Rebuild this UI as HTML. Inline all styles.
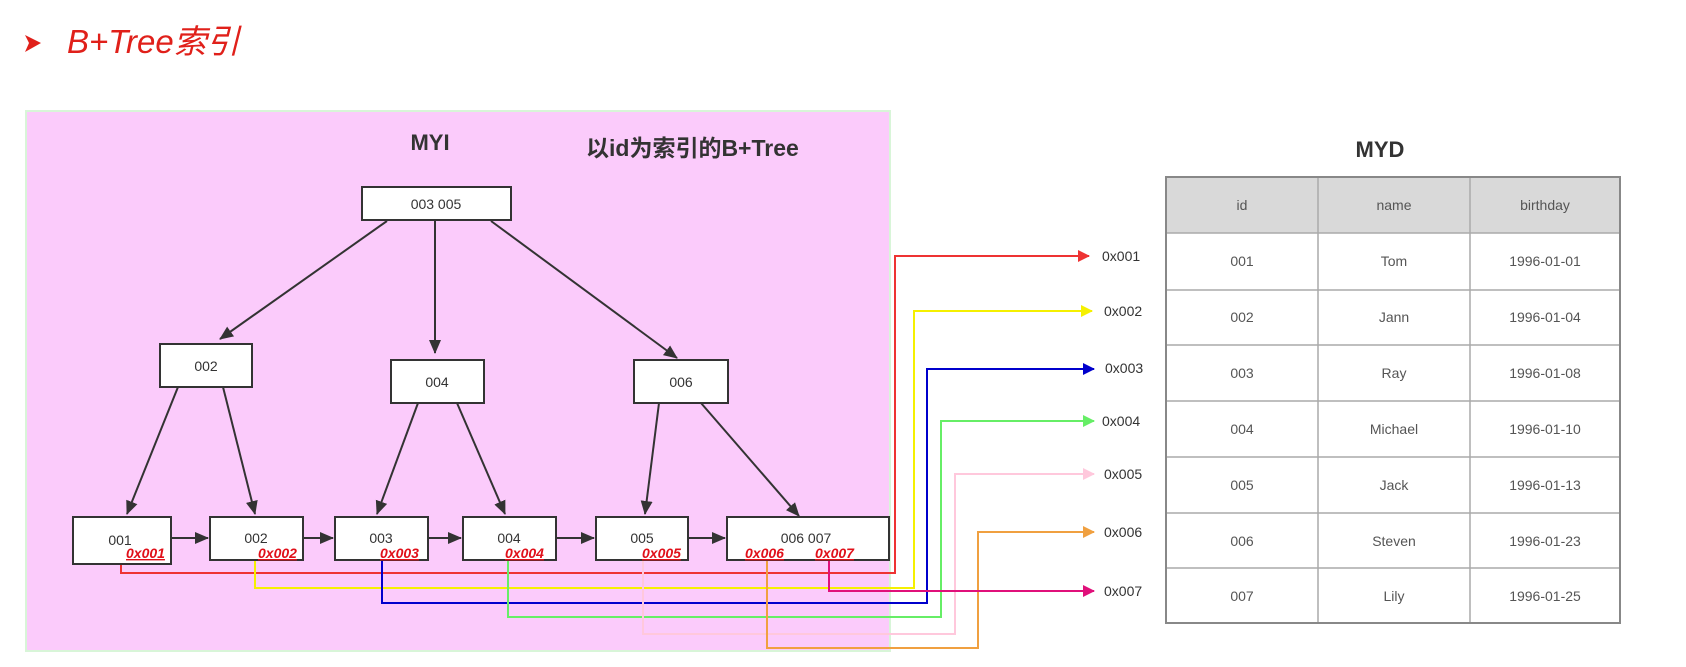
<!DOCTYPE html>
<html><head><meta charset="utf-8"><style>
html,body{margin:0;padding:0;background:#fff;width:1686px;height:667px;overflow:hidden}
svg text{font-family:"Liberation Sans","Noto Sans CJK SC",sans-serif}
</style></head><body>
<svg width="1686" height="667" viewBox="0 0 1686 667" xmlns="http://www.w3.org/2000/svg">
<defs>
<marker id="ak" markerWidth="14" markerHeight="14" refX="13" refY="7" orient="auto" markerUnits="userSpaceOnUse"><path d="M0,1 L14,7 L0,13 z" fill="#333"/></marker>
<marker id="ar" markerWidth="12" markerHeight="12" refX="11" refY="6" orient="auto" markerUnits="userSpaceOnUse"><path d="M0,0 L12,6 L0,12 z" fill="#ee3333"/></marker>
<marker id="ay" markerWidth="12" markerHeight="12" refX="11" refY="6" orient="auto" markerUnits="userSpaceOnUse"><path d="M0,0 L12,6 L0,12 z" fill="#f5f000"/></marker>
<marker id="ab" markerWidth="12" markerHeight="12" refX="11" refY="6" orient="auto" markerUnits="userSpaceOnUse"><path d="M0,0 L12,6 L0,12 z" fill="#0000cc"/></marker>
<marker id="ag" markerWidth="12" markerHeight="12" refX="11" refY="6" orient="auto" markerUnits="userSpaceOnUse"><path d="M0,0 L12,6 L0,12 z" fill="#66ee66"/></marker>
<marker id="ap" markerWidth="12" markerHeight="12" refX="11" refY="6" orient="auto" markerUnits="userSpaceOnUse"><path d="M0,0 L12,6 L0,12 z" fill="#ffc8dc"/></marker>
<marker id="ao" markerWidth="12" markerHeight="12" refX="11" refY="6" orient="auto" markerUnits="userSpaceOnUse"><path d="M0,0 L12,6 L0,12 z" fill="#f0a040"/></marker>
<marker id="am" markerWidth="12" markerHeight="12" refX="11" refY="6" orient="auto" markerUnits="userSpaceOnUse"><path d="M0,0 L12,6 L0,12 z" fill="#e0107a"/></marker>
</defs>
<path d="M25,35 L41,43 L25,52 L29,43 z" fill="#e0201a"/>
<text x="67" y="53" font-size="33" font-style="italic" fill="#e0201a">B+Tree索引</text>
<rect x="26" y="111" width="864" height="540" fill="#fbcbfb" stroke="#d8f5d8" stroke-width="2"/>
<text x="430" y="150" font-size="22" font-weight="bold" fill="#333" text-anchor="middle">MYI</text>
<text x="586" y="156" font-size="23" font-weight="bold" fill="#333">以id为索引的B+Tree</text>
<g fill="none" stroke-width="2">
<polyline points="121,563 121,573 895,573 895,256 1089,256" stroke="#ee3333" marker-end="url(#ar)"/>
<polyline points="255,560 255,588 914,588 914,311 1092,311" stroke="#f5f000" marker-end="url(#ay)"/>
<polyline points="382,560 382,603 927,603 927,369 1094,369" stroke="#0000cc" marker-end="url(#ab)"/>
<polyline points="508,560 508,617 941,617 941,421 1094,421" stroke="#66ee66" marker-end="url(#ag)"/>
<polyline points="643,560 643,634 955,634 955,474 1094,474" stroke="#ffc8dc" marker-end="url(#ap)"/>
<polyline points="767,560 767,648 978,648 978,532 1094,532" stroke="#f0a040" marker-end="url(#ao)"/>
<polyline points="829,560 829,591 1094,591" stroke="#e0107a" marker-end="url(#am)"/>
</g>
<g font-size="14" fill="#333">
<text x="1102" y="261">0x001</text><text x="1104" y="316">0x002</text><text x="1105" y="373">0x003</text>
<text x="1102" y="426">0x004</text><text x="1104" y="479">0x005</text><text x="1104" y="537">0x006</text><text x="1104" y="596">0x007</text>
</g>
<g stroke="#333" stroke-width="2" marker-end="url(#ak)">
<line x1="387" y1="221" x2="220" y2="339"/><line x1="435" y1="221" x2="435" y2="353"/><line x1="491" y1="221" x2="677" y2="358"/>
<line x1="178" y1="387" x2="127" y2="514"/><line x1="223" y1="387" x2="255" y2="514"/>
<line x1="418" y1="403" x2="377" y2="514"/><line x1="457" y1="403" x2="505" y2="514"/>
<line x1="659" y1="403" x2="645" y2="514"/><line x1="701" y1="403" x2="799" y2="516"/>
<line x1="172" y1="538" x2="208" y2="538"/><line x1="303" y1="538" x2="333" y2="538"/>
<line x1="428" y1="538" x2="461" y2="538"/><line x1="556" y1="538" x2="594" y2="538"/>
<line x1="688" y1="538" x2="725" y2="538"/>
</g>
<g fill="#fff" stroke="#333" stroke-width="2">
<rect x="362" y="187" width="149" height="33"/>
<rect x="160" y="344" width="92" height="43"/><rect x="391" y="360" width="93" height="43"/><rect x="634" y="360" width="94" height="43"/>
<rect x="73" y="517" width="98" height="47"/><rect x="210" y="517" width="93" height="43"/><rect x="335" y="517" width="93" height="43"/>
<rect x="463" y="517" width="93" height="43"/><rect x="596" y="517" width="92" height="43"/><rect x="727" y="517" width="162" height="43"/>
</g>
<g font-size="14" fill="#333" text-anchor="middle">
<text x="436" y="209">003  005</text>
<text x="206" y="371">002</text><text x="437" y="387">004</text><text x="681" y="387">006</text>
<text x="120" y="545">001</text><text x="256" y="543">002</text><text x="381" y="543">003</text><text x="509" y="543">004</text><text x="642" y="543">005</text><text x="806" y="543">006  007</text>
</g>
<g font-size="14" font-weight="bold" font-style="italic" fill="#e0101a" text-decoration="underline">
<text x="126" y="558">0x001</text><text x="258" y="558">0x002</text><text x="380" y="558">0x003</text><text x="505" y="558">0x004</text>
<text x="642" y="558">0x005</text><text x="745" y="558">0x006</text><text x="815" y="558">0x007</text>
</g>
<text x="1380" y="157" font-size="22" font-weight="bold" fill="#333" text-anchor="middle">MYD</text>
<rect x="1166" y="177" width="454" height="56" fill="#d9d9d9"/>
<g stroke="#aaa" stroke-width="1.5">
<line x1="1166" y1="233" x2="1620" y2="233"/><line x1="1166" y1="290" x2="1620" y2="290"/><line x1="1166" y1="345" x2="1620" y2="345"/>
<line x1="1166" y1="401" x2="1620" y2="401"/><line x1="1166" y1="457" x2="1620" y2="457"/><line x1="1166" y1="513" x2="1620" y2="513"/>
<line x1="1166" y1="568" x2="1620" y2="568"/>
<line x1="1318" y1="177" x2="1318" y2="623"/><line x1="1470" y1="177" x2="1470" y2="623"/>
</g>
<rect x="1166" y="177" width="454" height="446" fill="none" stroke="#888" stroke-width="2"/>
<g font-size="14" fill="#555" text-anchor="middle">
<text x="1242" y="210">id</text><text x="1394" y="210">name</text><text x="1545" y="210">birthday</text>
<text x="1242" y="266">001</text><text x="1394" y="266">Tom</text><text x="1545" y="266">1996-01-01</text>
<text x="1242" y="322">002</text><text x="1394" y="322">Jann</text><text x="1545" y="322">1996-01-04</text>
<text x="1242" y="378">003</text><text x="1394" y="378">Ray</text><text x="1545" y="378">1996-01-08</text>
<text x="1242" y="434">004</text><text x="1394" y="434">Michael</text><text x="1545" y="434">1996-01-10</text>
<text x="1242" y="490">005</text><text x="1394" y="490">Jack</text><text x="1545" y="490">1996-01-13</text>
<text x="1242" y="546">006</text><text x="1394" y="546">Steven</text><text x="1545" y="546">1996-01-23</text>
<text x="1242" y="601">007</text><text x="1394" y="601">Lily</text><text x="1545" y="601">1996-01-25</text>
</g>
</svg>
</body></html>
